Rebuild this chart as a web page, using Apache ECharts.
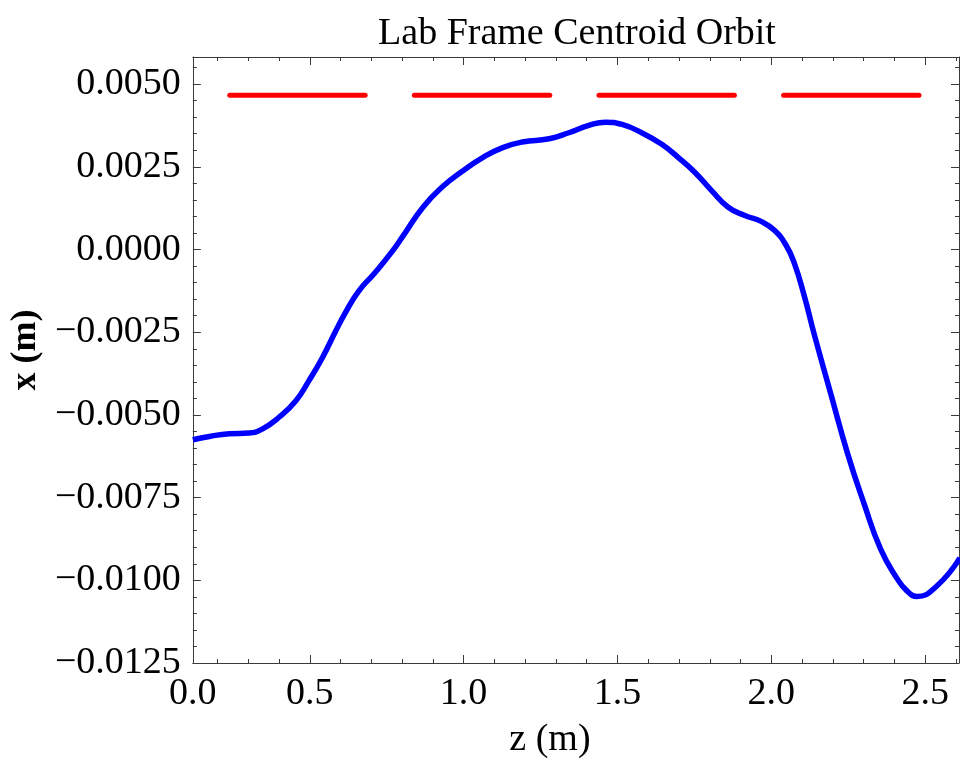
<!DOCTYPE html>
<html>
<head>
<meta charset="utf-8">
<title>Lab Frame Centroid Orbit</title>
<script src="https://cdn.jsdelivr.net/npm/echarts@6/dist/echarts.min.js"></script>
<style>
  html, body { margin: 0; padding: 0; background: #fff; }
  #chart { width: 960px; height: 764px; }
</style>
</head>
<body>
<div id="chart"></div>
<script>
// Centroid orbit: longitudinal position z (m) and horizontal offset x (m)
const zPos = [
  0.120, 0.174, 0.238, 0.303, 0.347, 0.400, 0.455, 0.497, 0.541, 0.584,
  0.615, 0.658, 0.712, 0.766, 0.804, 0.868, 0.933, 0.998, 1.062, 1.127,
  1.191, 1.278, 1.342, 1.407, 1.461, 1.515, 1.579, 1.644, 1.698, 1.752,
  1.806, 1.860, 1.914, 1.967, 2.010, 2.048, 2.075, 2.107, 2.140, 2.193,
  2.248, 2.301, 2.355, 2.409, 2.441, 2.473, 2.538, 2.613
];
const xOrbit = [
  -0.00575, -0.00565, -0.00557, -0.00555, -0.00542, -0.00507, -0.00457, -0.00397, -0.00327, -0.00247,
  -0.00192, -0.00127, -0.00070, -0.00008, 0.00042, 0.00128, 0.00191, 0.00238, 0.00278, 0.00308,
  0.00325, 0.00335, 0.00353, 0.00375, 0.00385, 0.00378, 0.00353, 0.00318, 0.00278, 0.00233,
  0.00178, 0.00128, 0.00103, 0.00085, 0.00058, 0.00013, -0.00042, -0.00140, -0.00258, -0.00435,
  -0.00617, -0.00767, -0.00905, -0.00995, -0.01032, -0.01049, -0.01017, -0.00932
];

// Magnet extents along z, drawn as a dashed marker row near the top
const magnetStart = [0.24, 0.84, 1.44, 2.04];
const magnetEnd   = [0.68, 1.28, 1.88, 2.48];
const magnetLevel = 0.00466;

// Axis ranges and tick labels
const zMin = 0.12, zMax = 2.61;
const xMin = -0.0125, xMax = 0.00582;
const zMajorTicks = [0.5, 1.0, 1.5, 2.0, 2.5];
const zLabelValues = [0.12, 0.5, 1.0, 1.5, 2.0, 2.5];
const zLabelTexts  = ['0.0', '0.5', '1.0', '1.5', '2.0', '2.5'];
const xMajorTicks = [0.005, 0.0025, 0, -0.0025, -0.005, -0.0075, -0.01, -0.0125];
const xLabelTexts = ['0.0050', '0.0025', '0.0000', '\u22120.0025', '\u22120.0050', '\u22120.0075', '\u22120.0100', '\u22120.0125'];

// Minor ticks: five subdivisions per major step
function minorTicks(lo, hi, step, majors) {
  const out = [];
  const n0 = Math.ceil(lo / step - 1e-9), n1 = Math.floor(hi / step + 1e-9);
  for (let n = n0; n <= n1; n++) {
    const v = +(n * step).toFixed(6);
    if (!majors.some(m => Math.abs(m - v) < step / 10)) out.push(v);
  }
  return out;
}
const zMinorTicks = minorTicks(zMin, zMax, 0.1, zMajorTicks);
const xMinorTicks = minorTicks(xMin, xMax, 0.0005, xMajorTicks);

const FONT = "'Liberation Serif', 'Times New Roman', serif";
const AXIS_COLOR = '#3a3a3a';

function frameAxis(position, lo, hi, ticks, len, drawLine, opts) {
  return Object.assign({
    type: 'value', position: position, min: lo, max: hi,
    axisLine: { show: drawLine, onZero: false, lineStyle: { color: AXIS_COLOR, width: 1 } },
    axisTick: { show: true, inside: true, length: len, customValues: ticks,
                lineStyle: { color: AXIS_COLOR, width: 1 } },
    axisLabel: { show: false },
    splitLine: { show: false }
  }, opts || {});
}

const chart = echarts.init(document.getElementById('chart'), null, { renderer: 'canvas' });

const magnetSeries = magnetStart.map((s, i) => ({
  type: 'line',
  xAxisIndex: 0, yAxisIndex: 0,
  data: [[s, magnetLevel], [magnetEnd[i], magnetLevel]],
  showSymbol: false,
  lineStyle: { color: '#ff0000', width: 5, cap: 'round' },
  silent: true, z: 3
}));

chart.setOption({
  animation: false,
  backgroundColor: '#ffffff',
  title: {
    text: 'Lab Frame Centroid Orbit',
    left: 572, top: 10, textAlign: 'center',
    textStyle: { fontFamily: FONT, fontSize: 38, fontWeight: 'normal', color: '#000' }
  },
  grid: { left: 188, right: 1, top: 57, bottom: 97, containLabel: false },
  xAxis: [
    frameAxis('bottom', zMin, zMax, zMinorTicks, 4, true, {
      name: 'z (m)', nameLocation: 'middle', nameGap: 58,
      nameTextStyle: { fontFamily: FONT, fontSize: 38, color: '#000', padding: [0, 52, 0, 0] },
      axisLabel: {
        show: true, margin: 12, customValues: zLabelValues,
        fontFamily: FONT, fontSize: 38, color: '#000',
        formatter: v => {
          const i = zLabelValues.findIndex(t => Math.abs(t - v) < 1e-6);
          return i >= 0 ? zLabelTexts[i] : '';
        }
      }
    }),
    frameAxis('bottom', zMin, zMax, zMajorTicks, 8, false),
    frameAxis('top', zMin, zMax, zMinorTicks, 4, true),
    frameAxis('top', zMin, zMax, zMajorTicks, 8, false)
  ],
  yAxis: [
    frameAxis('left', xMin, xMax, xMinorTicks, 4, true, {
      name: 'x (m)', nameLocation: 'middle', nameGap: 140, nameRotate: 90,
      nameTextStyle: { fontFamily: FONT, fontSize: 36, fontWeight: 'bold', color: '#000', padding: [0, 0, 0, 20] },
      axisLabel: {
        show: true, margin: 12, customValues: xMajorTicks,
        fontFamily: FONT, fontSize: 38, color: '#000',
        formatter: v => {
          const i = xMajorTicks.findIndex(t => Math.abs(t - v) < 1e-9);
          return i >= 0 ? xLabelTexts[i] : '';
        }
      }
    }),
    frameAxis('left', xMin, xMax, xMajorTicks, 8, false),
    frameAxis('right', xMin, xMax, xMinorTicks, 4, true),
    frameAxis('right', xMin, xMax, xMajorTicks, 8, false)
  ],
  series: [
    ...magnetSeries,
    {
      type: 'line',
      xAxisIndex: 0, yAxisIndex: 0,
      data: zPos.map((z, i) => [z, xOrbit[i]]),
      smooth: 0.5,
      showSymbol: false,
      lineStyle: { color: '#0000ff', width: 5.5 },
      silent: true, z: 4
    }
  ]
});
</script>
</body>
</html>
